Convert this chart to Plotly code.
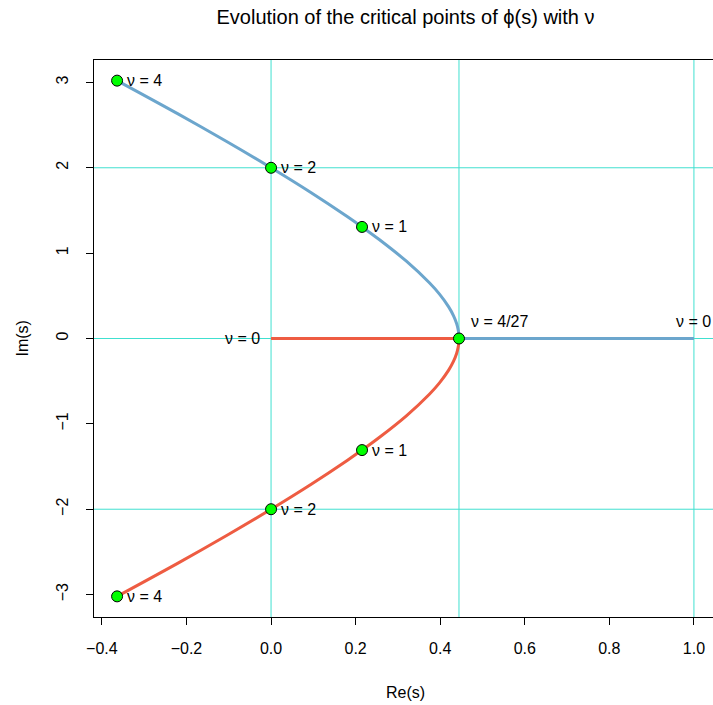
import plotly.graph_objects as go

# ---- data ----
# upper (blue) complex branch, from the double point s = 4/9 up to nu = 4
upper_re = [0.4444, 0.4439, 0.4422, 0.4388, 0.4316, 0.4200, 0.3988, 0.3750, 0.3200,
            0.2550, 0.2151, 0.1800, 0.0950, 0.0000, -0.1050, -0.2200, -0.3641]
upper_im = [0.0000, 0.0545, 0.1097, 0.1754, 0.2659, 0.3704, 0.5165, 0.6495, 0.9051,
            1.1624, 1.3072, 1.4287, 1.7073, 2.0000, 2.3076, 2.6308, 3.0209]
# lower (red) complex branch
lower_re = [0.4444, 0.4439, 0.4422, 0.4388, 0.4316, 0.4200, 0.3988, 0.3750, 0.3200,
            0.2550, 0.2151, 0.1800, 0.0950, 0.0000, -0.1050, -0.2200, -0.3641]
lower_im = [0.0000, -0.0545, -0.1097, -0.1754, -0.2659, -0.3704, -0.5165, -0.6495, -0.9051,
            -1.1624, -1.3072, -1.4287, -1.7073, -2.0000, -2.3076, -2.6308, -3.0209]
# real-axis segments (nu from 0 to 4/27)
blue_real_re = [1.0, 0.4444]
blue_real_im = [0.0, 0.0]
red_real_re = [0.0, 0.4444]
red_real_im = [0.0, 0.0]

# marked points
pt_re = [-0.3641, 0.0, 0.2151, 0.4444, 0.2151, 0.0, -0.3641]
pt_im = [3.0209, 2.0, 1.3072, 0.0, -1.3072, -2.0, -3.0209]

# labels
lab_text = ["ν = 4", "ν = 2", "ν = 1", "ν = 1", "ν = 2", "ν = 4"]
lab_re = [-0.3641, 0.0, 0.2151, 0.2151, 0.0, -0.3641]
lab_im = [3.0209, 2.0, 1.3072, -1.3072, -2.0, -3.0209]

grid_x = [0.0, 0.4444, 1.0]
grid_y = [-2, 0, 2]
x_ticks = [-0.4, -0.2, 0.0, 0.2, 0.4, 0.6, 0.8, 1.0]
y_ticks = [-3, -2, -1, 0, 1, 2, 3]

BLUE = "#6CA6CD"
RED = "#EE5C42"
GRID = "#40E0D0"
FONT = "Liberation Sans, Arial, sans-serif"

fig = go.Figure()

# grid lines
for gx in grid_x:
    fig.add_shape(type="line", xref="x", yref="paper", x0=gx, x1=gx, y0=0, y1=1,
                  line=dict(color=GRID, width=1), layer="below")
for gy in grid_y:
    fig.add_shape(type="line", xref="paper", yref="y", x0=0, x1=1, y0=gy, y1=gy,
                  line=dict(color=GRID, width=1), layer="below")

fig.add_trace(go.Scatter(x=red_real_re, y=red_real_im, mode="lines",
                         line=dict(color=RED, width=3), hoverinfo="skip"))
fig.add_trace(go.Scatter(x=blue_real_re, y=blue_real_im, mode="lines",
                         line=dict(color=BLUE, width=3), hoverinfo="skip"))
fig.add_trace(go.Scatter(x=upper_re, y=upper_im, mode="lines",
                         line=dict(color=BLUE, width=3, shape="spline", smoothing=0.8),
                         hoverinfo="skip"))
fig.add_trace(go.Scatter(x=lower_re, y=lower_im, mode="lines",
                         line=dict(color=RED, width=3, shape="spline", smoothing=0.8),
                         hoverinfo="skip"))
fig.add_trace(go.Scatter(x=pt_re, y=pt_im, mode="markers",
                         marker=dict(color="#00FF00", size=11,
                                     line=dict(color="black", width=1)),
                         hoverinfo="skip"))

ann_font = dict(family=FONT, size=16, color="black")
for t, xx, yy in zip(lab_text, lab_re, lab_im):
    fig.add_annotation(x=xx, y=yy, text=t, showarrow=False, xanchor="left",
                       yanchor="middle", xshift=8, font=ann_font)
fig.add_annotation(x=0.4444, y=0.0, text="ν = 4/27", showarrow=False, xanchor="left",
                   yanchor="middle", xshift=10, yshift=17, font=ann_font)
fig.add_annotation(x=1.0, y=0.0, text="ν = 0", showarrow=False, xanchor="center",
                   yanchor="middle", yshift=17, font=ann_font)
fig.add_annotation(x=0.0, y=0.0, text="ν = 0", showarrow=False, xanchor="right",
                   yanchor="middle", xshift=-9, font=ann_font)

# axis titles
fig.add_annotation(xref="paper", yref="paper", x=(405.5 - 94) / 619, y=-(692 - 617) / 557,
                   text="Re(s)", showarrow=False, xanchor="center", yanchor="middle",
                   font=ann_font)
fig.add_annotation(xref="paper", yref="paper", x=-(94 - 22) / 619, y=0.5,
                   text="Im(s)", showarrow=False, xanchor="center", yanchor="middle",
                   textangle=-90, font=ann_font)

fig.update_layout(
    width=713, height=705,
    margin=dict(l=94, r=0, t=60, b=88),
    paper_bgcolor="white", plot_bgcolor="white",
    showlegend=False,
    font=dict(family=FONT, size=16, color="black"),
    title=dict(text="Evolution of the critical points of ϕ(s) with ν",
               xref="container", yref="container", x=405.5 / 713, y=1 - 17 / 705,
               xanchor="center", yanchor="middle",
               font=dict(family=FONT, size=20, color="black")),
    xaxis=dict(range=[-0.4187, 1.0451], showgrid=False, zeroline=False,
               showline=True, mirror=True, linecolor="black", linewidth=1,
               ticks="outside", ticklen=7, tickcolor="black", tickwidth=1,
               tickvals=x_ticks, tickformat=".1f", ticklabelstandoff=10,
               tickfont=dict(family=FONT, size=16)),
    yaxis=dict(range=[-3.2626, 3.2626], showgrid=False, zeroline=False,
               showline=True, linecolor="black", linewidth=1,
               ticks="outside", ticklen=7, tickcolor="black", tickwidth=1,
               tickvals=y_ticks, tickangle=-90, ticklabelstandoff=12,
               tickfont=dict(family=FONT, size=16)),
)

fig.write_html("out.html")
